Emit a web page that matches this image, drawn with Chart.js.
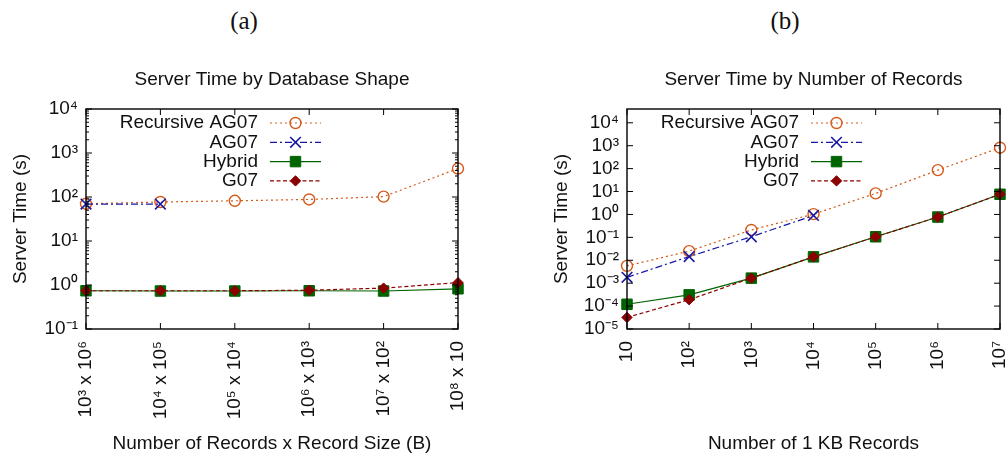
<!DOCTYPE html>
<html>
<head>
<meta charset="utf-8">
<script src="https://cdn.jsdelivr.net/npm/chart.js@4.4.0/dist/chart.umd.min.js"></script>
<style>
  html, body { margin: 0; padding: 0; background: #fff; overflow: hidden; }
  body { width: 1008px; height: 457px; position: relative; }
  .panel { position: absolute; top: 0; }
  #boxA { left: 0; }
  #boxB { left: 500px; }
  .tag { position: absolute; top: 7px; font-family: 'Liberation Serif', 'DejaVu Serif', serif; font-size: 25px; color: #111; transform: translateX(-50%); }
</style>
</head>
<body>
<div class="tag" style="left:244px">(a)</div>
<div class="tag" style="left:785px">(b)</div>
<div class="panel" id="boxA"><canvas id="chartA" width="500" height="457"></canvas></div>
<div class="panel" id="boxB"><canvas id="chartB" width="542" height="457"></canvas></div>
<script>
// (a) server time by database shape
const shapeLabels = ['10³ x 10⁶', '10⁴ x 10⁵', '10⁵ x 10⁴', '10⁶ x 10³', '10⁷ x 10²', '10⁸ x 10'];
const shapeRecursive = [70, 77, 82, 88, 102, 443];
const shapeAG07 = [69, 69];
const shapeHybrid = [0.74, 0.73, 0.73, 0.74, 0.73, 0.82];
const shapeG07 = [0.74, 0.74, 0.74, 0.76, 0.85, 1.13];
const shapeYTicks = [0.1, 1, 10, 100, 1000, 10000];
const shapeYLabels = ['10⁻¹', '10⁰', '10¹', '10²', '10³', '10⁴'];

// (b) server time by number of records
const countLabels = ['10', '10²', '10³', '10⁴', '10⁵', '10⁶', '10⁷'];
const countRecursive = [0.0057, 0.025, 0.21, 1.03, 8.3, 86, 820];
const countAG07 = [0.0018, 0.0145, 0.106, 0.90];
const countHybrid = [0.00012, 0.00031, 0.00166, 0.0141, 0.106, 0.77, 7.6];
const countG07 = [0.000032, 0.00019, 0.00166, 0.0141, 0.106, 0.77, 7.6];
const countYTicks = [1e-5, 1e-4, 1e-3, 1e-2, 1e-1, 1, 10, 100, 1000, 10000];
const countYLabels = ['10⁻⁵', '10⁻⁴', '10⁻³', '10⁻²', '10⁻¹', '10⁰', '10¹', '10²', '10³', '10⁴'];

const FONT = "'Liberation Sans', Arial, sans-serif";
const FS = 19;
Chart.defaults.font.family = FONT;
Chart.defaults.font.size = FS;
Chart.defaults.color = '#111';

const styles = {
  recursive: { color: 'rgb(212,90,26)', dash: [2, 3], point: 'circle', radius: 5.5, pbw: 1.4, fill: 'rgba(0,0,0,0)' },
  ag07: { color: 'rgb(24,24,165)', dash: [7, 3, 2, 3], point: 'crossRot', radius: 7.5, pbw: 1.6, fill: 'rgba(0,0,0,0)' },
  hybrid: { color: 'rgb(0,100,0)', dash: [], point: 'rect', radius: 7.4, pbw: 1, fill: 'rgb(0,100,0)' },
  g07: { color: 'rgb(139,0,0)', dash: [4, 2.5], point: 'rectRot', radius: 5.2, pbw: 1, fill: 'rgb(139,0,0)' }
};

function makeSet(name, data, st, order) {
  return {
    label: name,
    data: data,
    borderColor: st.color,
    backgroundColor: st.fill,
    borderWidth: 1.2,
    borderDash: st.dash,
    pointStyle: st.point,
    pointRadius: st.radius,
    pointBorderWidth: st.pbw,
    pointBackgroundColor: st.fill,
    pointBorderColor: st.color,
    tension: 0,
    clip: false,
    order: order
  };
}

// gnuplot-like key: text right-aligned, sample line with marker to the right
const keyPlugin = {
  id: 'key',
  afterDraw(chart) {
    const { ctx, chartArea: a } = chart;
    chart.data.datasets.forEach((ds, i) => {
      const y = a.top + 14 + i * 19.3;
      ctx.save();
      ctx.font = FS + 'px ' + FONT;
      ctx.fillStyle = '#111';
      ctx.textAlign = 'right';
      ctx.textBaseline = 'middle';
      ctx.fillText(ds.label, a.left + 172, y);
      ctx.strokeStyle = ds.borderColor;
      ctx.lineWidth = ds.borderWidth;
      ctx.setLineDash(ds.borderDash);
      ctx.beginPath();
      ctx.moveTo(a.left + 184, y);
      ctx.lineTo(a.left + 235, y);
      ctx.stroke();
      ctx.setLineDash([]);
      ctx.fillStyle = ds.pointBackgroundColor;
      ctx.strokeStyle = ds.pointBorderColor;
      ctx.lineWidth = ds.pointBorderWidth;
      Chart.helpers.drawPoint(ctx, { pointStyle: ds.pointStyle, radius: ds.pointRadius, rotation: 0, borderWidth: ds.pointBorderWidth }, a.left + 209.5, y);
      ctx.restore();
    });
  }
};

// border box with inward (mirrored) tick marks
const framePlugin = {
  id: 'frame',
  afterDatasetsDraw(chart, args, opts) {
    const { ctx, chartArea: a, scales } = chart;
    const x = scales.x, y = scales.y;
    ctx.save();
    ctx.strokeStyle = '#000';
    ctx.lineWidth = 1;
    ctx.beginPath();
    y.ticks.forEach(t => {
      const py = y.getPixelForValue(t.value);
      ctx.moveTo(a.left, py); ctx.lineTo(a.left + 6, py);
      ctx.moveTo(a.right, py); ctx.lineTo(a.right - 6, py);
    });
    if (opts.minor) {
      y.ticks.slice(0, -1).forEach(t => {
        for (let k = 2; k < 10; k++) {
          const py = y.getPixelForValue(t.value * k);
          ctx.moveTo(a.left, py); ctx.lineTo(a.left + 3, py);
          ctx.moveTo(a.right, py); ctx.lineTo(a.right - 3, py);
        }
      });
    }
    x.ticks.forEach((t, i) => {
      const px = x.getPixelForTick(i);
      ctx.moveTo(px, a.bottom); ctx.lineTo(px, a.bottom - 6);
      ctx.moveTo(px, a.top); ctx.lineTo(px, a.top + 6);
    });
    ctx.stroke();
    ctx.lineWidth = 1.4;
    ctx.strokeRect(a.left, a.top, a.right - a.left, a.bottom - a.top);
    ctx.restore();
  }
};

function makeChart(id, cfg) {
  return new Chart(document.getElementById(id), {
    type: 'line',
    data: {
      labels: cfg.labels,
      datasets: [
        makeSet('Recursive AG07', cfg.recursive, styles.recursive, 4),
        makeSet('AG07', cfg.ag07, styles.ag07, 3),
        makeSet('Hybrid', cfg.hybrid, styles.hybrid, 2),
        makeSet('G07', cfg.g07, styles.g07, 1)
      ]
    },
    options: {
      responsive: false,
      animation: false,
      layout: { padding: cfg.padding },
      plugins: {
        legend: { display: false },
        tooltip: { enabled: false },
        title: {
          display: true,
          text: cfg.title,
          fullSize: false,
          color: '#111',
          font: { size: FS, weight: 'normal' },
          padding: { top: 68.6, bottom: 17.6 }
        },
        frame: { minor: cfg.minor }
      },
      scales: {
        x: {
          type: 'category',
          offset: false,
          grid: { display: false, drawTicks: false },
          border: { display: false },
          ticks: { autoSkip: false, maxRotation: 90, minRotation: 90, padding: 12, color: '#111' },
          title: { display: true, text: cfg.xTitle, color: '#111', padding: { top: 0, bottom: 2 } },
          afterFit: s => { s.height = 128; }
        },
        y: {
          type: 'logarithmic',
          min: cfg.yTicks[0],
          max: cfg.yMax,
          grid: { display: false, drawTicks: false },
          border: { display: false },
          afterBuildTicks: s => { s.ticks = cfg.yTicks.map(v => ({ value: v })); },
          ticks: { autoSkip: false, padding: 8, color: '#111', callback: (v, i) => cfg.yLabels[i] },
          title: { display: true, text: 'Server Time (s)', color: '#111', padding: { top: 9, bottom: 0 } },
          afterFit: s => { s.width = 86; }
        }
      }
    },
    plugins: [framePlugin, keyPlugin]
  });
}

makeChart('chartA', {
  labels: shapeLabels,
  recursive: shapeRecursive, ag07: shapeAG07, hybrid: shapeHybrid, g07: shapeG07,
  yTicks: shapeYTicks, yLabels: shapeYLabels, yMax: 10000,
  title: 'Server Time by Database Shape',
  xTitle: 'Number of Records x Record Size (B)',
  padding: { left: 0, right: 42, top: 0, bottom: 0 },
  minor: true
});

makeChart('chartB', {
  labels: countLabels,
  recursive: countRecursive, ag07: countAG07, hybrid: countHybrid, g07: countG07,
  yTicks: countYTicks, yLabels: countYLabels, yMax: 40000,
  title: 'Server Time by Number of Records',
  xTitle: 'Number of 1 KB Records',
  padding: { left: 41, right: 42, top: 0, bottom: 0 },
  minor: false
});
</script>
</body>
</html>
